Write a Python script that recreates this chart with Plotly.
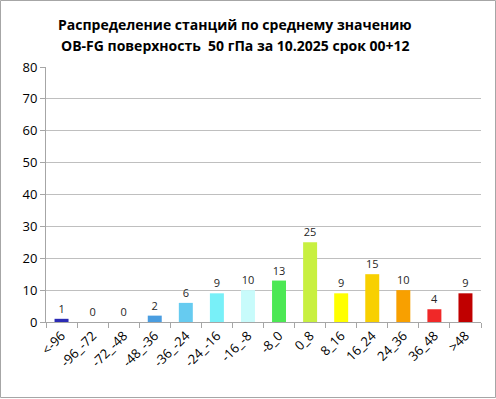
import plotly.graph_objects as go

categories = ["<-96", "-96_-72", "-72_-48", "-48_-36", "-36_-24", "-24_-16", "-16_-8",
              "-8_0", "0_8", "8_16", "16_24", "24_36", "36_48", ">48"]
values = [1, 0, 0, 2, 6, 9, 10, 13, 25, 9, 15, 10, 4, 9]
colors = ["#2b2bb5", "#2b2bb5", "#2b2bb5", "#4a9de0", "#66cbf0", "#78f0f8", "#c8fbfb",
          "#4ce854", "#c8f040", "#ffff00", "#f8d000", "#f8a000", "#f02828", "#c00000"]
y_ticks = [0, 10, 20, 30, 40, 50, 60, 70, 80]
title_lines = ["Распределение станций по среднему значению",
               "OB-FG поверхность  50 гПа за 10.2025 срок 00+12"]

L, R, T, B = 46, 15, 67, 77
PW, PH = 496 - L - R, 399 - T - B

fig = go.Figure()
fig.add_trace(go.Bar(
    x=categories, y=values,
    marker=dict(color=colors, line=dict(width=0)),
    text=[str(v) for v in values], textposition="outside",
    textfont=dict(family="Open Sans, Liberation Sans", size=11, color="#262626"),
    cliponaxis=False, width=0.45,
))

title_font = dict(family="Open Sans, Liberation Sans", size=14, color="#000000", weight="bold")
annotations = []
for line, ypx in zip(title_lines, [25, 45]):
    annotations.append(dict(text=line, xref="paper", yref="paper",
                            x=(235 - L) / PW, y=1 + (T - ypx) / PH,
                            xanchor="center", yanchor="middle", showarrow=False,
                            font=title_font))

fig.update_layout(
    width=496, height=399,
    margin=dict(l=L, r=R, t=T, b=B, autoexpand=False),
    paper_bgcolor="white", plot_bgcolor="white",
    showlegend=False,
    annotations=annotations,
    xaxis=dict(
        type="category", tickangle=-45, showgrid=False, automargin=False,
        showline=True, linecolor="#a6a6a6", linewidth=1,
        ticks="outside", ticklen=5, tickcolor="#a6a6a6",
        tickson="boundaries",
        tickfont=dict(family="Open Sans, Liberation Sans", size=13, color="#000000"),
        range=[-0.5, 13.5],
    ),
    yaxis=dict(
        range=[0, 80], tickvals=y_ticks, showgrid=True, gridcolor="#bfbfbf", gridwidth=1,
        showline=True, linecolor="#a6a6a6", linewidth=1, automargin=False,
        ticks="outside", ticklen=5, tickcolor="#a6a6a6",
        tickfont=dict(family="Open Sans, Liberation Sans", size=13, color="#000000"),
        zeroline=False,
    ),
    shapes=[dict(type="rect", xref="paper", yref="paper",
                 x0=(0.5 - L) / PW, x1=(495.5 - L) / PW,
                 y0=-(B - 1.5) / PH, y1=1 + (T - 0.5) / PH,
                 line=dict(color="#a6a6a6", width=1), layer="above")],
)

fig.write_html("out.html", config={"displayModeBar": False},
               post_script="document.body.style.margin='0';document.body.style.padding='0';")
